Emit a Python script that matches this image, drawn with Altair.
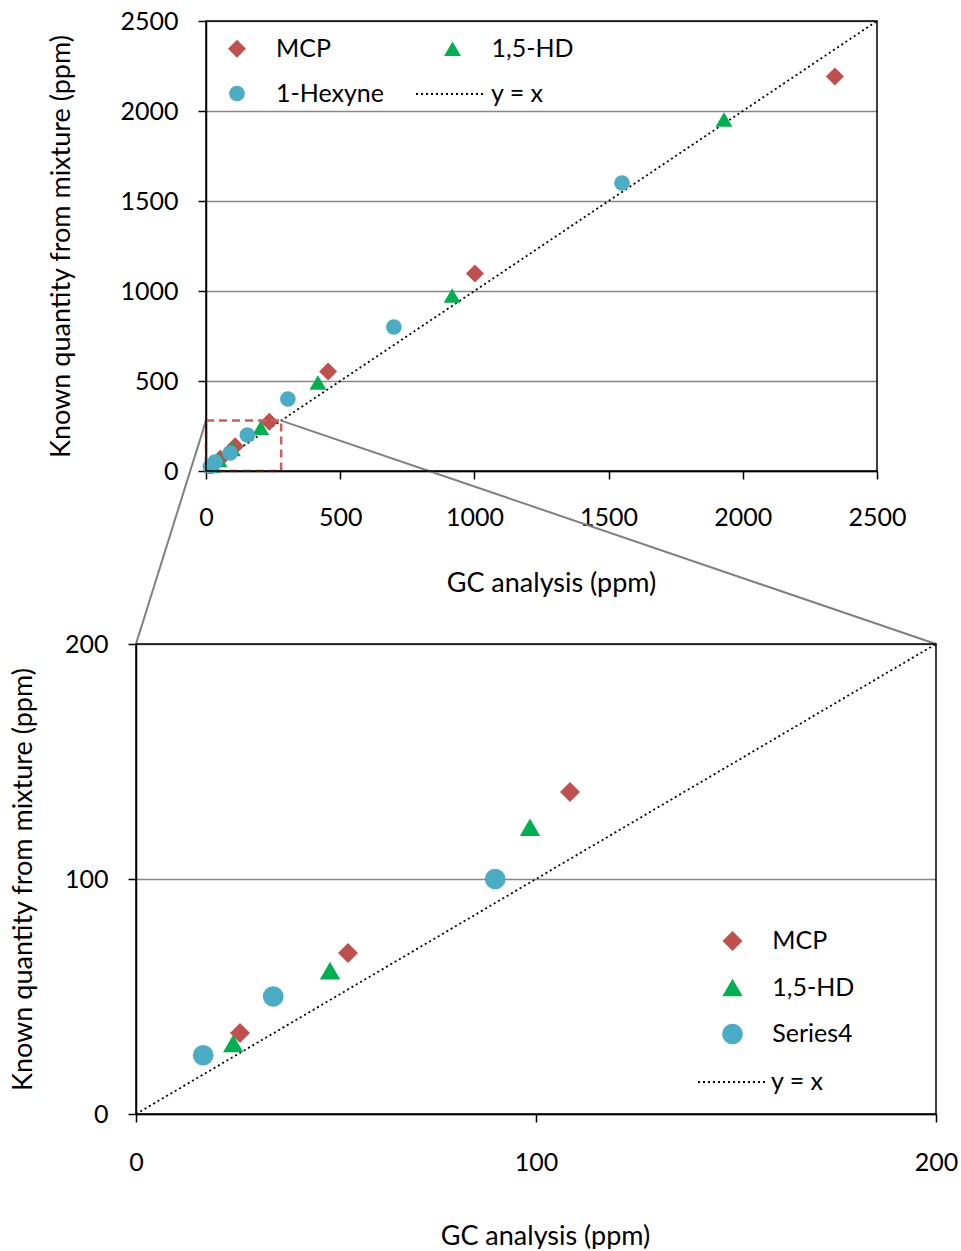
import altair as alt
import pandas as pd

# ---------------- data ----------------
gc_mcp = [26, 53, 108.5, 236, 455, 1002, 2343]
known_mcp = [34.5, 68.5, 137, 273, 553, 1097, 2192]
gc_hd = [24.3, 48.5, 98.5, 204, 417, 917, 1930]
known_hd = [30, 61, 122, 240, 492, 975, 1953]
gc_hex = [16.8, 34.3, 89.8, 154, 305, 700, 1550]
known_hex = [25, 50, 100, 200, 400, 800, 1600]
zoom_points = 3     # the lower panel re-plots the first three points of each series

series_top = ["MCP", "1,5-HD", "1-Hexyne"]
series_bottom = ["MCP", "1,5-HD", "Series4"]
series_colors = ["#C0504D", "#00B050", "#4BACC6"]
series_shapes = ["diamond", "triangle-up", "circle"]
sizes_top = [324, 246, 234]
sizes_bottom = [400, 430, 430]
legend_order_top = ["MCP", "1-Hexyne", "1,5-HD"]   # column-major fill -> MCP, 1,5-HD / 1-Hexyne

top_domain = [0, 2500]
top_ticks = [0, 500, 1000, 1500, 2000, 2500]
bottom_domain = [0, 200]
bottom_ticks = [0, 100, 200]
zoom_box = [0, 280]          # region of the top panel shown enlarged below
line_label = "y = x"

x_title = "GC analysis (ppm)"
y_title = "Known quantity from mixture (ppm)"

# ---------------- layout ----------------
FONT = "Lato"
FS = 25
TFS = 27
TOP_SHIFT = 70      # top plot starts this far right of the bottom plot
TOP_PLOT_W = 671
TOP_H = 450
BOT_W = 800
BOT_H = 470
GAP = 173           # vertical gap between the two plot areas


def points_frame(names, count=None):
    rows = []
    for name, xs, ys in zip(names, [gc_mcp, gc_hd, gc_hex], [known_mcp, known_hd, known_hex]):
        pairs = list(zip(xs, ys))
        if count is not None:
            pairs = pairs[:count]
        for x, y in pairs:
            rows.append({"series": name, "gc": x, "known": y})
    return pd.DataFrame(rows)


# ---------------- top panel ----------------
xs_top = alt.Scale(domain=top_domain, range=[TOP_SHIFT, TOP_SHIFT + TOP_PLOT_W], nice=False, zero=False)
ys_top = alt.Scale(domain=top_domain, nice=False, zero=False)
x_ax_top = alt.Axis(values=top_ticks, title=x_title, grid=False, labelFlush=False, format="d",
                    labelPadding=26, titlePadding=40, titleX=TOP_SHIFT + 345)
y_ax_top = alt.Axis(values=top_ticks, title=y_title, grid=True, offset=-TOP_SHIFT, format="d",
                    labelPadding=20, titlePadding=44)


def X_top(field, **kw):
    return alt.X(field, type="quantitative", scale=xs_top, axis=x_ax_top, **kw)


def Y_top(field, **kw):
    return alt.Y(field, type="quantitative", scale=ys_top, axis=y_ax_top, **kw)


pts_legend_top = alt.Legend(orient="none", legendX=88.5, legendY=15, columns=2, title=None,
                            values=legend_order_top,
                            labelFontSize=FS, labelFont=FONT, labelOffset=26.5,
                            rowPadding=19, columnPadding=55.5, padding=0, symbolOpacity=1,
                            symbolStrokeWidth=0)
line_legend_top = alt.Legend(orient="none", legendX=279, legendY=38, title=None,
                             symbolType="stroke", symbolSize=68 * 68, symbolStrokeWidth=1.8,
                             symbolStrokeColor="black", symbolDash=[2, 3], labelFontSize=FS,
                             labelFont=FONT, labelOffset=6, padding=0)

df_top = points_frame(series_top)
df_line_top = pd.DataFrame({"gc": top_domain, "known": top_domain, "name": [line_label] * 2})
df_box = pd.DataFrame({"x": [zoom_box[0]], "x2": [zoom_box[1]], "y": [zoom_box[0]], "y2": [zoom_box[1]]})
df_frame_top = pd.DataFrame({"x": [top_domain[0]], "x2": [top_domain[1]],
                             "y": [top_domain[0]], "y2": [top_domain[1]]})

# connectors: from the zoom box's upper corners to the upper corners of the lower panel,
# expressed in the top panel's data units
px_per_x = TOP_PLOT_W / (top_domain[1] - top_domain[0])
px_per_y = TOP_H / (top_domain[1] - top_domain[0])
y_target = -(GAP) / px_per_y
x_left_target = (0 - TOP_SHIFT) / px_per_x
x_right_target = (BOT_W - TOP_SHIFT) / px_per_x
df_conn = pd.DataFrame({
    "x": [zoom_box[0], zoom_box[1]],
    "y": [zoom_box[1], zoom_box[1]],
    "x2": [x_left_target, x_right_target],
    "y2": [y_target, y_target],
})

top_line = alt.Chart(df_line_top).mark_line(color="black", strokeWidth=1.8).encode(
    x=X_top("gc"), y=Y_top("known"),
    strokeDash=alt.StrokeDash("name:N", scale=alt.Scale(domain=[line_label], range=[[2, 3]]),
                              legend=line_legend_top),
)
top_pts = alt.Chart(df_top).mark_point(filled=True, opacity=1).encode(
    x=X_top("gc"), y=Y_top("known"),
    color=alt.Color("series:N", scale=alt.Scale(domain=series_top, range=series_colors),
                    legend=pts_legend_top),
    shape=alt.Shape("series:N", scale=alt.Scale(domain=series_top, range=series_shapes),
                    legend=pts_legend_top),
    size=alt.Size("series:N", scale=alt.Scale(domain=series_top, range=sizes_top),
                  legend=pts_legend_top),
)
top_box = alt.Chart(df_box).mark_rect(fillOpacity=0, stroke="#C8605D", strokeWidth=2.5,
                                      strokeDash=[8, 5]).encode(
    x=X_top("x"), x2="x2", y=Y_top("y"), y2="y2")
top_conn = alt.Chart(df_conn).mark_rule(color="#808080", strokeWidth=2).encode(
    x=X_top("x"), y=Y_top("y"), x2="x2", y2="y2")
top_frame = alt.Chart(df_frame_top).mark_rect(fillOpacity=0, stroke="black", strokeWidth=1.5).encode(
    x=X_top("x"), x2="x2", y=Y_top("y"), y2="y2")

top = alt.layer(top_line, top_pts, top_box, top_conn, top_frame).properties(
    width=TOP_SHIFT + TOP_PLOT_W, height=TOP_H)

# ---------------- bottom panel ----------------
xs_bot = alt.Scale(domain=bottom_domain, nice=False, zero=False)
ys_bot = alt.Scale(domain=bottom_domain, nice=False, zero=False)
x_ax_bot = alt.Axis(values=bottom_ticks, title=x_title, grid=False, labelFlush=False, format="d",
                    labelPadding=28, titlePadding=48, titleX=409)
y_ax_bot = alt.Axis(values=bottom_ticks, title=y_title, grid=True, labelPadding=20, titlePadding=27,
                    format="d")


def X_bot(field, **kw):
    return alt.X(field, type="quantitative", scale=xs_bot, axis=x_ax_bot, **kw)


def Y_bot(field, **kw):
    return alt.Y(field, type="quantitative", scale=ys_bot, axis=y_ax_bot, **kw)


pts_legend_bot = alt.Legend(orient="none", legendX=584, legendY=284.5, title=None,
                            labelFontSize=FS, labelFont=FONT, labelOffset=27.3,
                            rowPadding=20.5, padding=0, symbolOpacity=1, symbolStrokeWidth=0)
line_legend_bot = alt.Legend(orient="none", legendX=561, legendY=403, title=None,
                             symbolType="stroke", symbolSize=68 * 68, symbolStrokeWidth=1.8,
                             symbolStrokeColor="black", symbolDash=[2, 3], labelFontSize=FS,
                             labelFont=FONT, labelOffset=4, padding=0)

df_bot = points_frame(series_bottom, count=zoom_points)
df_line_bot = pd.DataFrame({"gc": bottom_domain, "known": bottom_domain, "name": [line_label] * 2})
df_frame_bot = pd.DataFrame({"x": [bottom_domain[0]], "x2": [bottom_domain[1]],
                             "y": [bottom_domain[0]], "y2": [bottom_domain[1]]})

bot_line = alt.Chart(df_line_bot).mark_line(color="black", strokeWidth=1.8).encode(
    x=X_bot("gc"), y=Y_bot("known"),
    strokeDash=alt.StrokeDash("name:N", scale=alt.Scale(domain=[line_label], range=[[2, 3]]),
                              legend=line_legend_bot),
)
bot_pts = alt.Chart(df_bot).mark_point(filled=True, opacity=1).encode(
    x=X_bot("gc"), y=Y_bot("known"),
    color=alt.Color("series:N", scale=alt.Scale(domain=series_bottom, range=series_colors),
                    legend=pts_legend_bot),
    shape=alt.Shape("series:N", scale=alt.Scale(domain=series_bottom, range=series_shapes),
                    legend=pts_legend_bot),
    size=alt.Size("series:N", scale=alt.Scale(domain=series_bottom, range=sizes_bottom),
                  legend=pts_legend_bot),
)
bot_frame = alt.Chart(df_frame_bot).mark_rect(fillOpacity=0, stroke="black", strokeWidth=1.5).encode(
    x=X_bot("x"), x2="x2", y=Y_bot("y"), y2="y2")

bottom = alt.layer(bot_line, bot_pts, bot_frame).properties(width=BOT_W, height=BOT_H)

chart = alt.vconcat(top, bottom, spacing=GAP, bounds="flush").resolve_scale(
    x="independent", y="independent", color="independent", shape="independent",
    size="independent", strokeDash="independent",
).resolve_legend(
    color="independent", shape="independent", size="independent", strokeDash="independent",
).properties(
    padding={"left": 9, "top": 9, "right": 0, "bottom": 0},
    background="white",
).configure_view(stroke=None).configure_axis(
    labelFont=FONT, labelFontSize=FS, labelColor="black",
    titleFont=FONT, titleFontSize=TFS, titleFontWeight="normal", titleColor="black",
    domainColor="black", domainWidth=1.5, tickColor="black", tickWidth=1.5, tickSize=8,
    gridColor="#878787", gridWidth=1.5, labelOverlap=False,
).configure_legend(labelColor="black")

chart.save("out.html", embed_options={"renderer": "svg", "actions": False})
